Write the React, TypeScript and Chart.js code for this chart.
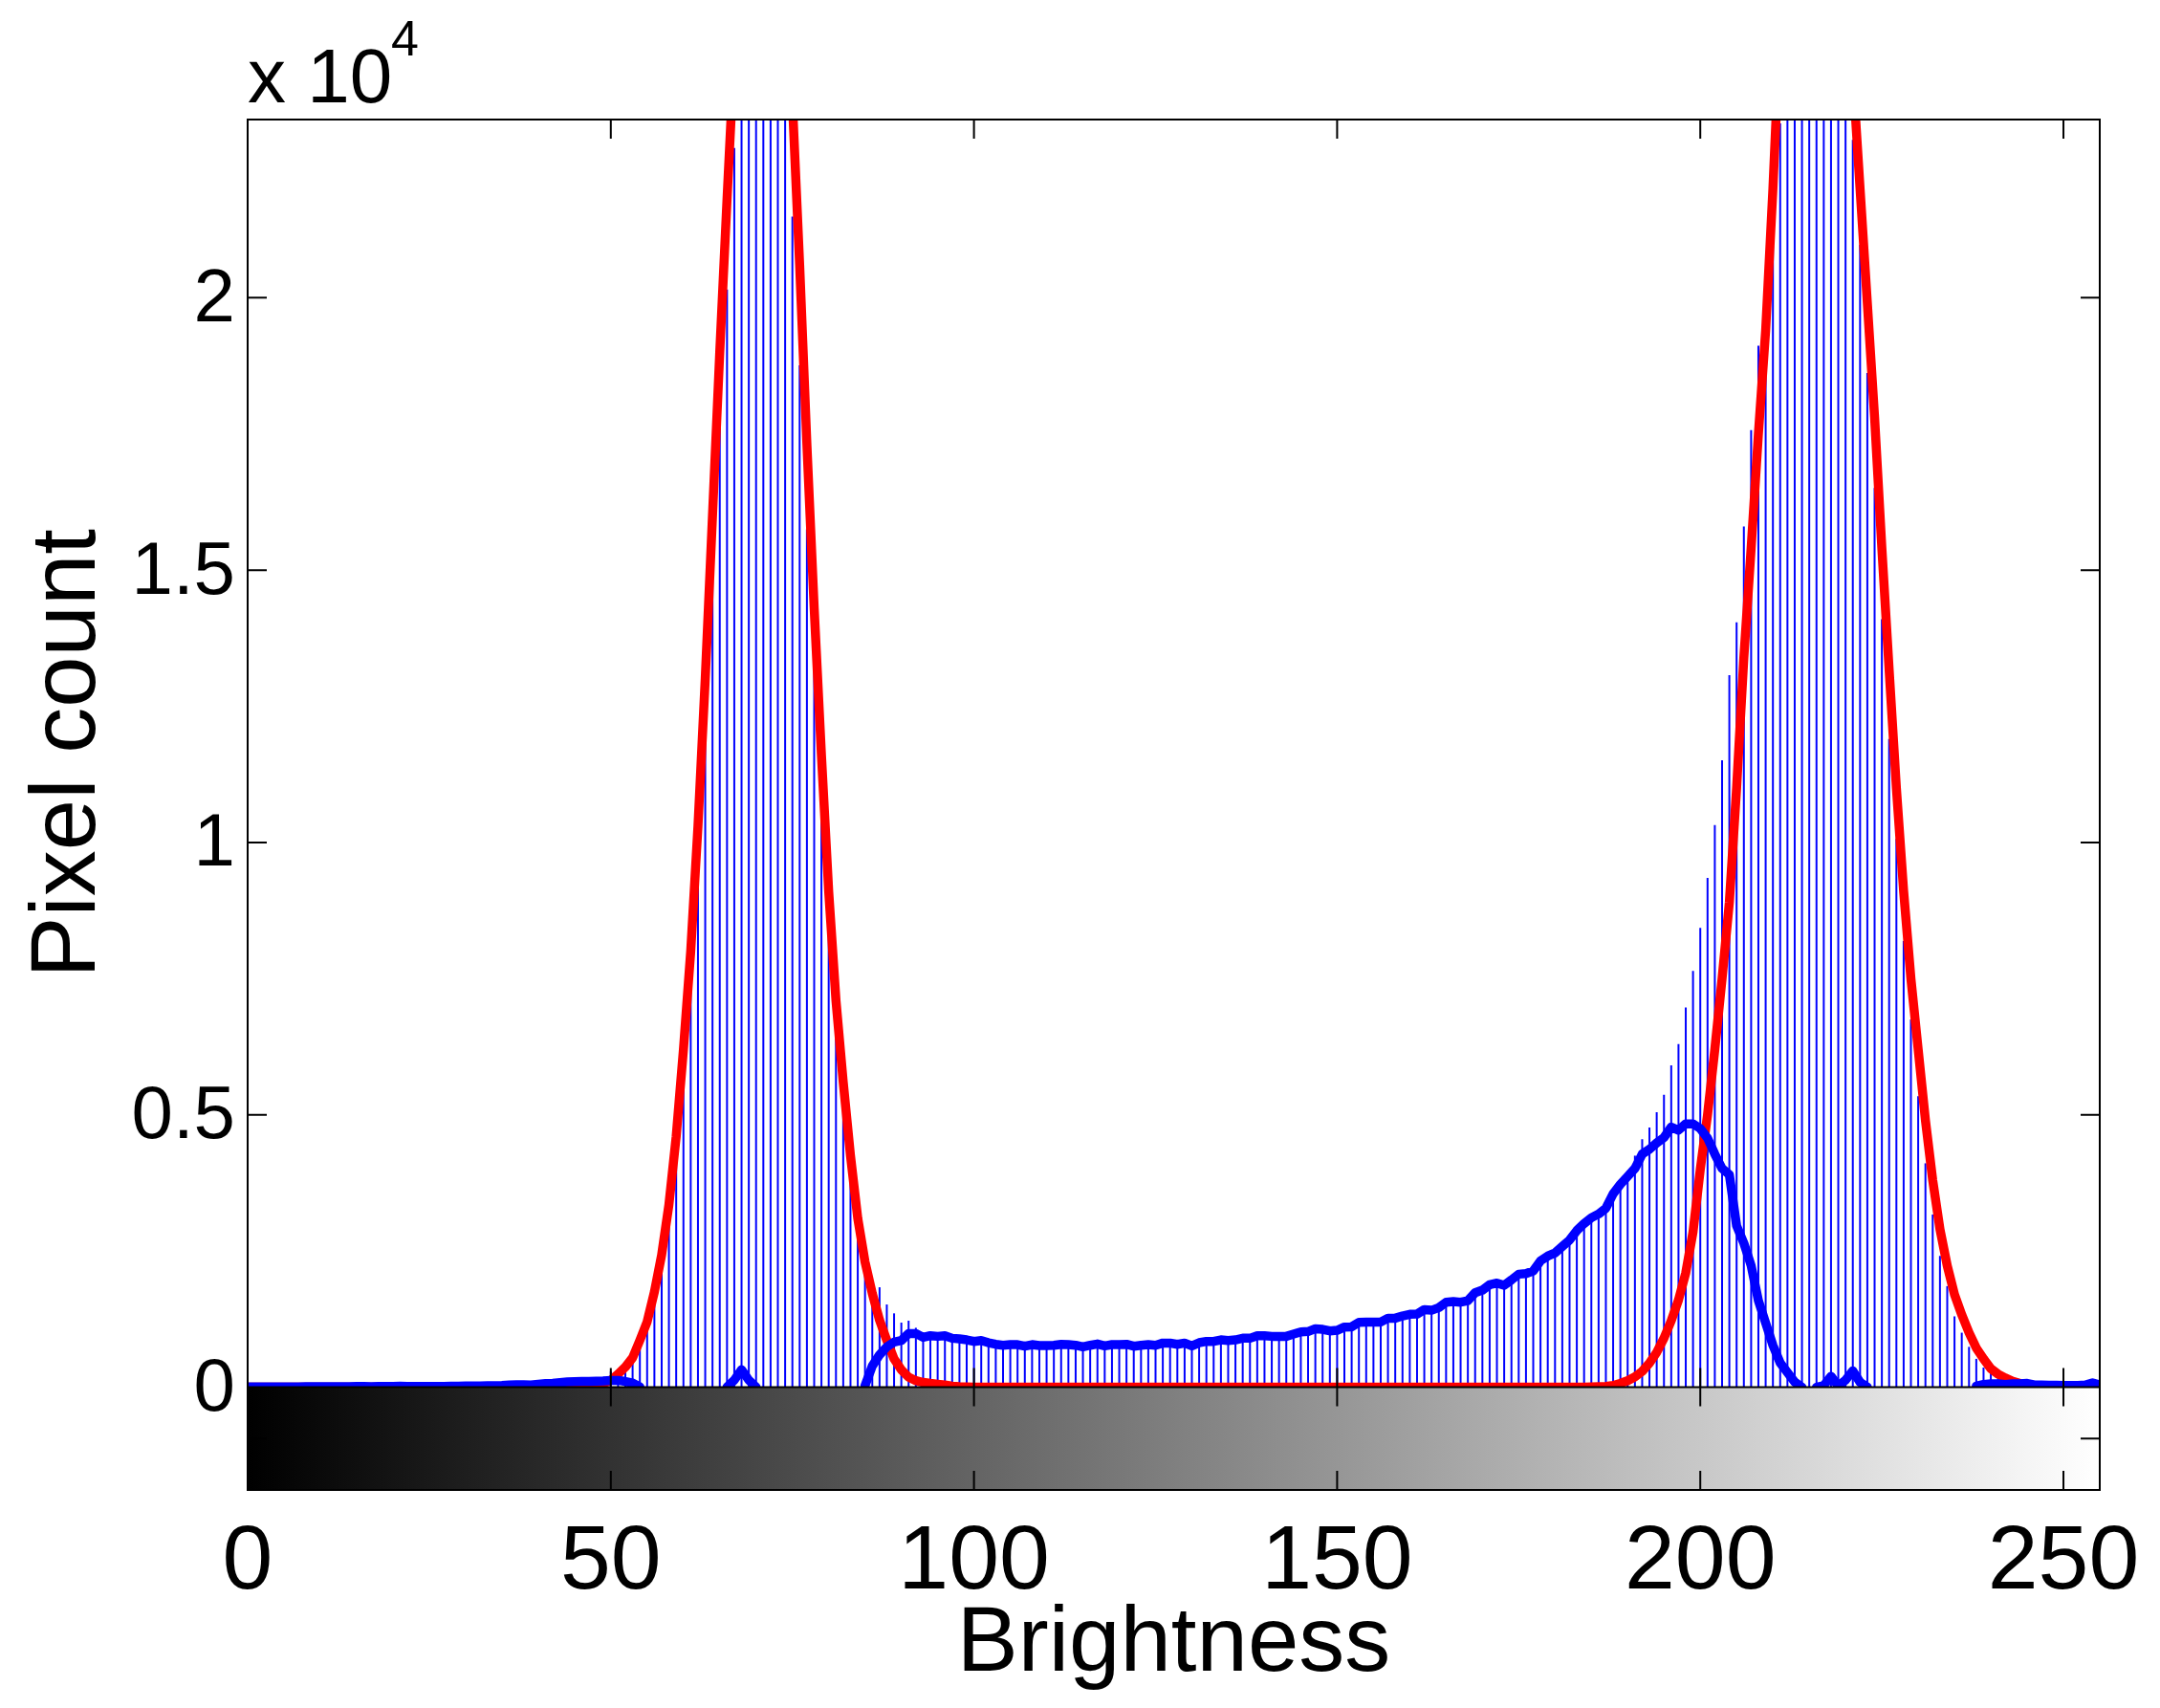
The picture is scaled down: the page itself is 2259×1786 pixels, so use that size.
import React, { useEffect, useRef } from 'react';
import Chart from 'chart.js/auto';

// one value per brightness level (rows of ten)
const histCounts = [
  5, 5, 5, 5, 5, 5, 5, 5, 8, 8,
  8, 10, 10, 8, 8, 14, 12, 10, 12, 14,
  12, 18, 14, 12, 12, 14, 14, 15, 18, 20,
  22, 24, 24, 26, 26, 30, 38, 44, 46, 42,
  55, 65, 72, 85, 95, 100, 105, 105, 130, 190,
  290, 300, 270, 480, 710, 1160, 1680, 2350, 3320, 4440,
  6000, 7710, 9870, 12330, 14790, 17610, 20150, 22750, 24800, 26500,
  27500, 28000, 27800, 27000, 24800, 21490, 18760, 15750, 13270, 10510,
  8530, 6630, 5170, 4100, 3170, 2130, 1960, 1834, 1518, 1355,
  1185, 1220, 1090, 960, 970, 950, 960, 920, 900, 880,
  860, 870, 830, 800, 790, 800, 790, 770, 790, 780,
  780, 790, 800, 790, 780, 760, 780, 810, 770, 800,
  790, 800, 770, 780, 790, 780, 820, 820, 800, 820,
  770, 830, 850, 850, 880, 870, 880, 910, 910, 960,
  960, 950, 950, 950, 990, 1030, 1040, 1090, 1080, 1050,
  1060, 1120, 1120, 1200, 1210, 1210, 1210, 1280, 1280, 1320,
  1350, 1360, 1440, 1430, 1480, 1570, 1590, 1570, 1600, 1750,
  1800, 1900, 1930, 1890, 1990, 2090, 2100, 2150, 2340, 2420,
  2480, 2600, 2720, 2890, 3020, 3130, 3200, 3310, 3570, 3760,
  3970, 4250, 4550, 4765, 5050, 5370, 5910, 6300, 6970, 7640,
  8430, 9350, 10320, 11510, 13070, 14040, 15800, 17570, 19120, 20100,
  20950, 23200, 24500, 25800, 26800, 27300, 27500, 27400, 26900, 26000,
  24700, 22900, 20970, 18620, 16510, 14100, 11900, 10065, 8190, 6750,
  5340, 4110, 3170, 2410, 1855, 1300, 1000, 740, 520, 360,
  260, 190, 150, 120, 100, 90, 70, 60, 50, 40,
  40, 30, 30, 20, 40, 70,
];

const redCurve = [
  0, 0, 0, 0, 0, 0, 0, 0, 0, 0,
  0, 0, 0, 0, 0, 0, 0, 0, 0, 0,
  0, 0, 0, 0, 0, 0, 0, 0, 0, 0,
  0, 0, 0, 0, 0, 0, 0, 0, 0, 0,
  0, 0, 0, 0, 0, 5, 10, 20, 35, 70,
  125, 240, 370, 540, 860, 1200, 1750, 2430, 3350, 4600,
  6200, 8000, 10300, 13000, 16000, 19000, 21800, 24500, 26300, 27500,
  28200, 28300, 28000, 27000, 25500, 23600, 20600, 17300, 14300, 11600,
  9100, 7100, 5600, 4250, 3100, 2300, 1720, 1230, 860, 520,
  320, 185, 120, 88, 70, 55, 40, 20, 10, 5,
  0, 0, 0, 0, 0, 0, 0, 0, 0, 0,
  0, 0, 0, 0, 0, 0, 0, 0, 0, 0,
  0, 0, 0, 0, 0, 0, 0, 0, 0, 0,
  0, 0, 0, 0, 0, 0, 0, 0, 0, 0,
  0, 0, 0, 0, 0, 0, 0, 0, 0, 0,
  0, 0, 0, 0, 0, 0, 0, 0, 0, 0,
  0, 0, 0, 0, 0, 0, 0, 0, 0, 0,
  0, 0, 0, 0, 0, 0, 0, 0, 0, 0,
  0, 0, 0, 0, 0, 5, 10, 15, 30, 70,
  120, 190, 290, 440, 640, 900, 1220, 1600, 2100, 2850,
  4000, 5000, 6200, 7500, 8900, 11000, 13400, 15400, 17500, 19400,
  22000, 25000, 26800, 28000, 29200, 29800, 30000, 29700, 29000, 27800,
  26000, 24100, 22000, 19900, 17800, 15400, 13170, 11000, 9100, 7500,
  6200, 4900, 3800, 2900, 2230, 1700, 1330, 1000, 720, 520,
  340, 240, 170, 110, 70, 40, 20, 10, 0, 0,
  0, 0, 0, 0, 0, 0,
];

// null where the blue line is broken in the picture
const blueCurve = [
  5, 5, 5, 5, 5, 5, 5, 5, 8, 8,
  8, 10, 10, 8, 8, 14, 12, 10, 12, 14,
  12, 18, 14, 12, 12, 14, 14, 15, 18, 20,
  22, 24, 24, 26, 26, 30, 38, 44, 46, 42,
  55, 65, 72, 85, 95, 100, 105, 105, 110, 115,
  125, 125, 105, 75, 5, null, null, null, null, null,
  null, null, null, null, null, null, 0, 130, 320, 130,
  0, null, null, null, null, null, null, null, null, null,
  null, null, null, null, null, 30, 390, 594, 740, 828,
  857, 985, 985, 915, 945, 933, 945, 898, 886, 869,
  840, 857, 816, 787, 769, 781, 781, 752, 781, 763,
  763, 769, 787, 781, 769, 740, 769, 793, 758, 781,
  781, 787, 752, 769, 781, 769, 810, 810, 787, 810,
  758, 816, 840, 840, 869, 857, 869, 898, 898, 945,
  945, 933, 933, 933, 974, 1015, 1021, 1073, 1062, 1032,
  1044, 1103, 1108, 1190, 1196, 1196, 1196, 1266, 1266, 1307,
  1337, 1342, 1424, 1412, 1460, 1559, 1571, 1559, 1588, 1734,
  1781, 1881, 1910, 1869, 1969, 2074, 2085, 2132, 2320, 2407,
  2466, 2583, 2700, 2875, 3004, 3110, 3180, 3285, 3548, 3724,
  3870, 4016, 4279, 4367, 4484, 4583, 4776, 4718, 4835, 4835,
  4747, 4572, 4279, 4016, 3899, 2963, 2642, 2232, 1590, 1179,
  769, 447, 272, 96, 0, null, 0, 30, 200, 20,
  130, 300, 90, 0, null, null, null, null, null, null,
  null, null, null, null, null, null, null, null, 20, 50,
  60, 60, 50, 60, 60, 70, 40, 40, 35, 35,
  30, 30, 30, 40, 80, 40,
];

const xTickValues = [0, 50, 100, 150, 200, 250];
const yTickValues = [0, 5000, 10000, 15000, 20000];
const stripTickValue = -945;

const FONT = '"Liberation Sans", Arial, sans-serif';

// gradient strip, MATLAB style inward ticks, the y title and the exponent label
const framePlugin = {
  id: 'frame',
  afterDatasetsDraw(chart: any) {
    const { ctx, chartArea, scales } = chart;
    const { left, right, top, bottom } = chartArea;
    const zeroY = scales.y.getPixelForValue(0);
    const tick = 20;

    ctx.save();
    // covers whatever part of the lines falls under zero
    const grad = ctx.createLinearGradient(scales.x.getPixelForValue(0), 0, scales.x.getPixelForValue(255), 0);
    grad.addColorStop(0, '#000000');
    grad.addColorStop(1, '#ffffff');
    ctx.fillStyle = grad;
    ctx.fillRect(left, zeroY, right - left, bottom - zeroY);

    ctx.strokeStyle = '#000000';
    ctx.lineWidth = 2;
    ctx.beginPath();
    ctx.rect(left, top, right - left, bottom - top);
    ctx.moveTo(left, zeroY);
    ctx.lineTo(right, zeroY);
    xTickValues.forEach(v => {
      const x = scales.x.getPixelForValue(v);
      ctx.moveTo(x, top);
      ctx.lineTo(x, top + tick);
      ctx.moveTo(x, zeroY - tick);
      ctx.lineTo(x, zeroY + tick);
      ctx.moveTo(x, bottom);
      ctx.lineTo(x, bottom - tick);
    });
    [...yTickValues, stripTickValue].forEach(v => {
      const y = scales.y.getPixelForValue(v);
      ctx.moveTo(left, y);
      ctx.lineTo(left + tick, y);
      ctx.moveTo(right, y);
      ctx.lineTo(right - tick, y);
    });
    ctx.stroke();

    ctx.fillStyle = '#000000';
    ctx.textAlign = 'left';
    ctx.textBaseline = 'alphabetic';
    ctx.font = `80px ${FONT}`;
    ctx.fillText('x 10', left, 107);
    ctx.font = `52px ${FONT}`;
    ctx.fillText('4', left + 150, 58);

    // centred on the part above zero, which the axis title option can't do
    ctx.translate(99, (top + zeroY) / 2);
    ctx.rotate(-Math.PI / 2);
    ctx.textAlign = 'center';
    ctx.font = `96px ${FONT}`;
    ctx.fillText('Pixel count', 0, 0);
    ctx.restore();
  },
};

const App: React.FC = () => {
  const canvasRef = useRef<HTMLCanvasElement | null>(null);

  useEffect(() => {
    if (!canvasRef.current) return;
    const toPoints = (values: (number | null)[]) => values.map((y, x) => ({ x, y }));

    const chart = new Chart(canvasRef.current, {
      type: 'bar',
      data: {
        datasets: [
          {
            type: 'line',
            label: 'Residual',
            data: toPoints(blueCurve),
            borderColor: '#0000ff',
            borderWidth: 9.5,
            borderJoinStyle: 'round',
            borderCapStyle: 'round',
            pointRadius: 0,
            clip: 0,
            order: 1,
          },
          {
            type: 'line',
            label: 'Fit',
            data: toPoints(redCurve),
            borderColor: '#ff0000',
            borderWidth: 9.5,
            borderJoinStyle: 'round',
            pointRadius: 0,
            clip: 0,
            order: 2,
          },
          {
            type: 'bar',
            label: 'Histogram',
            data: toPoints(histCounts),
            backgroundColor: '#0000ff',
            barThickness: 2,
            inflateAmount: 0,
            clip: 0,
            order: 3,
          },
        ] as any,
      },
      options: {
        responsive: false,
        animation: false,
        devicePixelRatio: 1,
        layout: { padding: { top: 125, right: 63, left: 0, bottom: 0 } },
        plugins: { legend: { display: false }, tooltip: { enabled: false } },
        scales: {
          x: {
            type: 'linear',
            offset: false,
            min: 0,
            max: 255,
            grid: { display: false },
            border: { display: false },
            afterBuildTicks: (axis: any) => {
              axis.ticks = xTickValues.map(value => ({ value }));
            },
            afterFit: (axis: any) => {
              axis.height = 228;
            },
            ticks: {
              color: '#000000',
              font: { family: FONT, size: 95 },
              maxRotation: 0,
              autoSkip: false,
              padding: 12,
            },
            title: {
              display: true,
              text: 'Brightness',
              color: '#000000',
              font: { family: FONT, size: 96 },
              padding: { top: 0, bottom: 8 },
            },
          },
          y: {
            type: 'linear',
            min: -1887,
            max: 23272,
            grid: { display: false },
            border: { display: false },
            afterBuildTicks: (axis: any) => {
              axis.ticks = yTickValues.map(value => ({ value }));
            },
            afterFit: (axis: any) => {
              axis.width = 259;
            },
            ticks: {
              color: '#000000',
              font: { family: FONT, size: 78 },
              padding: 5,
              labelOffset: 3,
              callback: (value: any) => String(Number(value) / 10000),
            },
          },
        },
      },
      plugins: [framePlugin],
    } as any);

    // Cleanup on unmount
    return () => chart.destroy();
  }, []);

  return (
    <div style={{ position: 'absolute', left: 0, top: 0, width: 2259, height: 1786, background: '#ffffff' }}>
      <canvas ref={canvasRef} width={2259} height={1786} style={{ display: 'block' }}></canvas>
    </div>
  );
};

export default App;
